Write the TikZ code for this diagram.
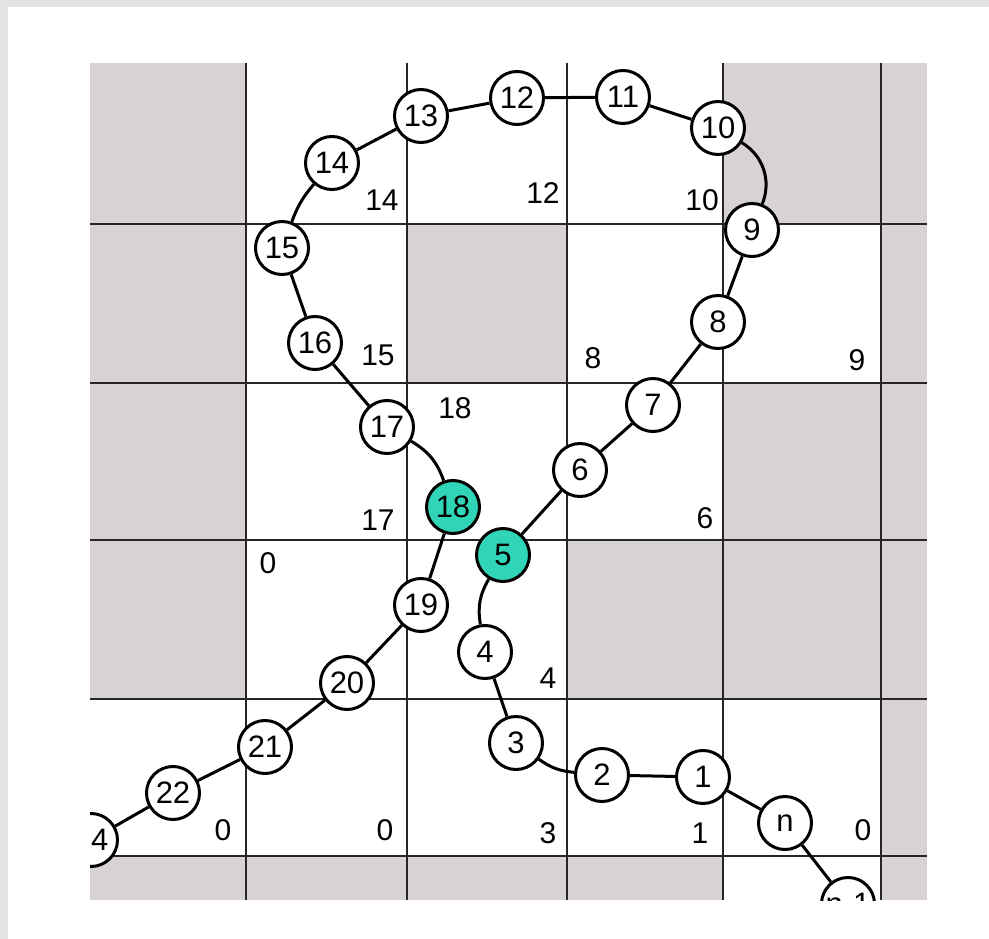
\documentclass[tikz,border=0pt]{standalone}
\usepackage{fontspec}
\setmainfont{Liberation Sans}
\usetikzlibrary{positioning}
\definecolor{cellgray}{RGB}{216,210,210}
\definecolor{framegray}{RGB}{227,227,227}
\definecolor{hitteal}{RGB}{48,212,182}

\begin{document}
\begin{tikzpicture}[
        x=1pt, y=-1pt,
        bead/.style={draw, circle, line width=3pt, fill=#1, minimum size=53pt, inner sep=0pt, font=\fontsize{31}{32}\selectfont},
        bead/.default=white,
        link/.style={line width=3pt},
        gridline/.style={line width=2.2pt, black!85},
        cellnum/.style={font=\fontsize{30}{32}\selectfont},
    ]
    \useasboundingbox (0,0) rectangle (989,939);
    % frame
    \fill[framegray] (0,0) rectangle (989,7);
    \fill[framegray] (0,0) rectangle (8,939);

    \begin{scope}
    \clip (90,63) rectangle (927,900);

    % shaded cells
    \foreach \xa/\ya/\xb/\yb in {90/63/246/699, 881/63/927/900, 723/63/881/224, 407/224/567/383,
                                 723/383/881/699, 567/540/723/699, 90/856/723/900}
        \fill[cellgray] (\xa,\ya) rectangle (\xb,\yb);

    % grid
    \foreach \gx in {246,407,567,723,881}
        \draw[gridline] (\gx,63) -- (\gx,900);
    \foreach \gy in {224,383,540,699,856}
        \draw[gridline] (90,\gy) -- (927,\gy);

    % cell values
    \node[cellnum] (v14) at (382,200) {14};
    \node[cellnum] (v12) at (543,193) {12};
    \node[cellnum] (v10) at (702,200) {10};
    \node[cellnum] (v15) at (378,355) {15};
    \node[cellnum] (v8) at (593,358) {8};
    \node[cellnum] (v9) at (857,360) {9};
    \node[cellnum] (v18) at (455,408) {18};
    \node[cellnum] (v17) at (378,520) {17};
    \node[cellnum] (v6) at (705,518) {6};
    \node[cellnum] (vza) at (268,563) {0};
    \node[cellnum] (v4) at (548,678) {4};
    \node[cellnum] (vzb) at (223,830) {0};
    \node[cellnum] (vzc) at (385,830) {0};
    \node[cellnum] (v3) at (548,833) {3};
    \node[cellnum] (v1) at (700,833) {1};
    \node[cellnum] (vzd) at (863,830) {0};

    % chain, first strand
    \node[bead] (cnm) at (848,904) {n-1};
    \node[bead] (cn) at (785,823) {n};
    \node[bead] (c1) at (703,777) {1};
    \node[bead] (c2) at (602,775) {2};
    \node[bead] (c3) at (516,743) {3};
    \node[bead] (c4) at (485,652) {4};
    \node[bead=hitteal] (c5) at (503,555) {5};
    \node[bead] (c6) at (580,470) {6};
    \node[bead] (c7) at (653,405) {7};
    \node[bead] (c8) at (718,322) {8};
    \node[bead] (c9) at (752,230) {9};
    \node[bead] (c10) at (718,128) {10};
    \node[bead] (c11) at (623,97) {11};
    \node[bead] (c12) at (517,98) {12};
    \node[bead] (c13) at (421,116) {13};

    % chain, second strand
    \node[bead] (c14) at (332,163) {14};
    \node[bead] (c15) at (282,248) {15};
    \node[bead] (c16) at (315,343) {16};
    \node[bead] (c17) at (387,427) {17};
    \node[bead=hitteal] (c18) at (453,507) {18};
    \node[bead] (c19) at (421,605) {19};
    \node[bead] (c20) at (347,683) {20};
    \node[bead] (c21) at (265,747) {21};
    \node[bead] (c22) at (173,793) {22};
    \node[bead] (c24) at (91,840) {\phantom{2}4};

    % links
    \draw[link] (cnm) -- (cn);
    \draw[link] (cn) -- (c1);
    \draw[link] (c1) -- (c2);
    \draw[link] (c2) to[bend left=15] (c3);
    \draw[link] (c3) -- (c4);
    \draw[link] (c4) to[bend left=20] (c5);
    \draw[link] (c5) -- (c6);
    \draw[link] (c6) -- (c7);
    \draw[link] (c7) -- (c8);
    \draw[link] (c8) -- (c9);
    \draw[link] (c9) to[bend right=40] (c10);
    \draw[link] (c10) -- (c11);
    \draw[link] (c11) -- (c12);
    \draw[link] (c12) -- (c13);
    \draw[link] (c13) -- (c14);
    \draw[link] (c14) to[bend right=10] (c15);
    \draw[link] (c15) -- (c16);
    \draw[link] (c16) -- (c17);
    \draw[link] (c17) to[bend left=20] (c18);
    \draw[link] (c18) -- (c19);
    \draw[link] (c19) -- (c20);
    \draw[link] (c20) -- (c21);
    \draw[link] (c21) -- (c22);
    \draw[link] (c22) -- (c24);
    \end{scope}
\end{tikzpicture}
\end{document}
